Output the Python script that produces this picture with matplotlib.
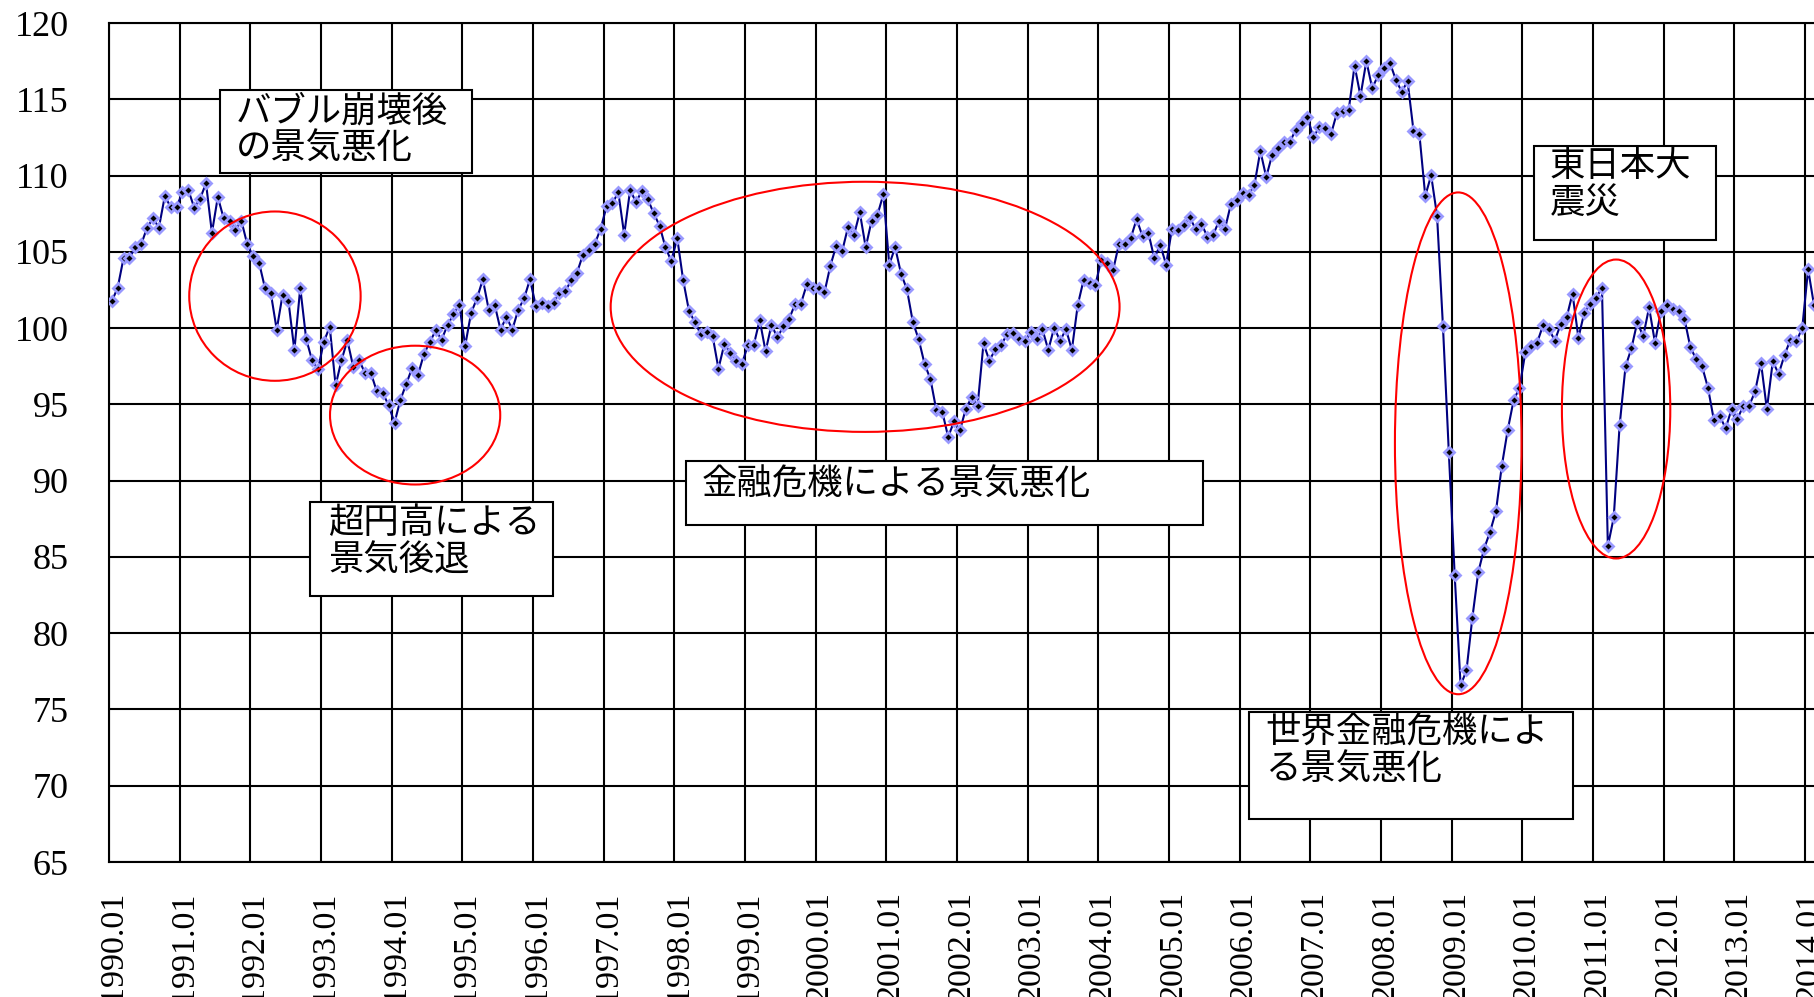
import numpy as np
import matplotlib
matplotlib.use("Agg")
import matplotlib.pyplot as plt
from matplotlib.patches import Ellipse, Rectangle
from matplotlib.transforms import ScaledTranslation

plt.rcParams['font.family'] = ['Noto Sans CJK JP', 'DejaVu Sans']

# monthly index, 1990.01 - 2014.02
values = [
    101.76, 102.65, 104.6, 104.6, 105.3, 105.5, 106.6, 107.2, 106.6, 108.65, 107.95, 107.95,   # 1990
    108.9, 109.05, 107.9, 108.5, 109.5, 106.25, 108.6, 107.2, 107.05, 106.45, 107.05, 105.5,   # 1991
    104.7, 104.3, 102.65, 102.3, 99.9, 102.2, 101.75, 98.55, 102.65, 99.3, 97.9, 97.3,         # 1992
    99.1, 100.1, 96.25, 97.9, 99.2, 97.45, 97.9, 97.05, 97.05, 95.85, 95.75, 94.95,            # 1993
    93.8, 95.3, 96.35, 97.4, 96.95, 98.3, 99.1, 99.85, 99.25, 100.2, 100.9, 101.55,            # 1994
    98.85, 101.0, 101.95, 103.2, 101.2, 101.55, 99.9, 100.75, 99.9, 101.2, 101.95, 103.2,      # 1995
    101.45, 101.67, 101.45, 101.67, 102.33, 102.43, 103.13, 103.65, 104.83, 105.13, 105.52, 106.52,  # 1996
    107.98, 108.2, 108.9, 106.13, 109.07, 108.26, 109.0, 108.46, 107.54, 106.72, 105.3, 104.39,      # 1997
    105.91, 103.17, 101.13, 100.39, 99.6, 99.72, 99.5, 97.35, 98.96, 98.4, 97.87, 97.65,       # 1998
    98.91, 98.91, 100.54, 98.48, 100.22, 99.39, 100.11, 100.61, 101.57, 101.61, 102.87, 102.65,      # 1999
    102.65, 102.35, 104.09, 105.41, 105.04, 106.63, 106.09, 107.59, 105.3, 107.04, 107.43, 108.78,   # 2000
    104.17, 105.3, 103.57, 102.54, 100.41, 99.26, 97.65, 96.65, 94.61, 94.52, 92.87, 93.89,    # 2001
    93.3, 94.72, 95.48, 94.93, 99.0, 97.87, 98.61, 98.89, 99.61, 99.7, 99.28, 99.13,           # 2002
    99.72, 99.28, 99.93, 98.57, 100.04, 99.17, 99.93, 98.57, 101.52, 103.17, 102.98, 102.83,   # 2003
    104.5, 104.28, 103.8, 105.52, 105.52, 105.91, 107.15, 106.02, 106.24, 104.57, 105.48, 104.17,    # 2004
    106.52, 106.43, 106.74, 107.26, 106.52, 106.85, 106.0, 106.13, 107.04, 106.52, 108.13, 108.41,   # 2005
    108.84, 108.73, 109.4, 111.62, 109.91, 111.36, 111.8, 112.22, 112.18, 113.02, 113.47, 113.84,    # 2006
    112.51, 113.18, 113.13, 112.73, 114.11, 114.22, 114.29, 117.22, 115.22, 117.51, 115.73, 116.58,  # 2007
    117.07, 117.4, 116.29, 115.51, 116.18, 112.96, 112.73, 108.67, 110.02, 107.38, 100.16, 91.87,    # 2008
    83.79, 76.58, 77.56, 81.03, 84.0, 85.55, 86.65, 87.99, 90.98, 93.33, 95.27, 96.09,         # 2009
    98.43, 98.83, 99.06, 100.19, 99.95, 99.18, 100.28, 100.7, 102.27, 99.37, 101.01, 101.59,   # 2010
    101.99, 102.65, 85.71, 87.59, 93.63, 97.49, 98.67, 100.4, 99.46, 101.36, 99.06, 101.1,     # 2011
    101.52, 101.29, 101.1, 100.63, 98.76, 97.96, 97.49, 96.09, 93.98, 94.22, 93.44, 94.68,     # 2012
    94.07, 94.89, 94.92, 95.85, 97.73, 94.68, 97.82, 97.0, 98.24, 99.25, 99.13, 100.0,         # 2013
    103.86, 101.52,                                                                            # 2014
]
years = list(range(1990, 2015))
year_labels = [f"{y}.01" for y in years]

notes = ["バブル崩壊後\nの景気悪化", "超円高による\n景気後退", "金融危機による景気悪化",
         "世界金融危機によ\nる景気悪化", "東日本大\n震災"]

x = np.arange(len(values))

fig = plt.figure(figsize=(18.14, 9.97), dpi=100)
ax = fig.add_axes([0.06, 0.1354, 0.94, 0.8414])

ax.plot(x, values, color='#000080', lw=1.5, marker='D', ms=5,
        mfc='black', mec='#9999ff', mew=2, zorder=3)

ax.set_xlim(-0.5, 289.0)
ax.set_ylim(65, 120)

# grid
ax.set_xticks([-0.5 + 12 * i for i in range(len(years))])
ax.set_xticklabels(year_labels, rotation=90, va='top', ha='center',
                   fontsize=24.5, family='Liberation Serif')
ax.set_yticks(np.arange(65, 121, 5))
ax.set_yticklabels([str(v) for v in range(65, 121, 5)], fontsize=26,
                   family='Liberation Serif')
ax.tick_params(axis='x', length=0, pad=21)
ax.tick_params(axis='y', length=0, pad=29)
shift = ScaledTranslation(4 / 100, 0, fig.dpi_scale_trans)
for lab in ax.get_xticklabels():
    lab.set_transform(lab.get_transform() + shift)
ax.grid(True, color='black', lw=1.5)
for s in ['left', 'bottom', 'top']:
    ax.spines[s].set_linewidth(1.5)
ax.spines['right'].set_visible(False)

# red ellipses
ellipses = [(27.7, 102.1, 29.1, 11.1), (51.5, 94.3, 28.9, 9.1),
            (127.9, 101.4, 86.4, 16.4), (228.6, 92.45, 21.5, 32.9),
            (255.4, 94.7, 18.4, 19.6)]
for cx, cy, w, h in ellipses:
    ax.add_patch(Ellipse((cx, cy), w, h, fill=False, ec='red', lw=1.5, zorder=4))

# annotation boxes
boxes = [(18.4, 110.15, 42.7, 5.46), (33.65, 82.43, 41.25, 6.17),
         (97.5, 87.09, 87.75, 4.23), (193.1, 67.79, 55.0, 7.06),
         (241.4, 105.81, 30.9, 6.14)]
text_pos = [(21.0, 112.97), (36.7, 86.0), (100.2, 89.72), (195.8, 72.28), (244.1, 109.42)]
for (bx, by, bw, bh), (tx, ty), label in zip(boxes, text_pos, notes):
    ax.add_patch(Rectangle((bx, by), bw, bh, fc='white', ec='black', lw=1.5, zorder=5))
    ax.text(tx, ty, label, fontsize=25.5, va='center', ha='left',
            linespacing=1.05, zorder=6)

plt.savefig('out.png', dpi=100)
